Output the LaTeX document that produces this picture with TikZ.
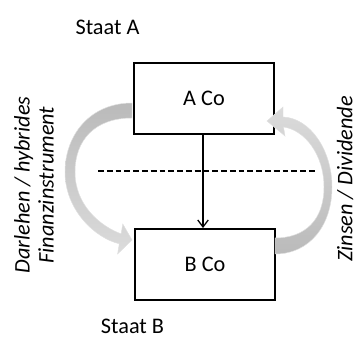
\documentclass[tikz,border=0pt]{standalone}
\usepackage{fontspec}
\setmainfont{Carlito}
\usepackage{tikz}
\usetikzlibrary{arrows.meta}

\tikzset{
    cobox/.style={draw, line width=1.6pt, minimum width=4.2cm, minimum height=2.13cm, inner sep=0pt},
    lbl/.style={font=\fontsize{19}{21}\selectfont},
    sidelbl/.style={font=\fontsize{19}{20.5}\selectfont\itshape, rotate=90, align=center},
    flow/.style={draw=black!12, line width=0.4pt}
}

\begin{document}
\begin{tikzpicture}[x=0.03cm, y=-0.03cm]
    \useasboundingbox (0,0) rectangle (363,338);

    % Countries
    \node[lbl] (staata) at (107.5,27) {Staat A};
    \node[lbl] (staatb) at (132.5,326) {Staat B};

    % Companies
    \node[cobox, lbl] (aco) at (204,98.5) {A Co};
    \node[cobox, lbl] (bco) at (205,264.5) {B Co};
    \draw[line width=1.1pt, -{Straight Barb[length=6pt,width=9pt]}] (aco.south -| 203,0) -- (bco.north -| 203,0);

    % Border
    \draw[line width=1.1pt, dash pattern=on 5pt off 2.5pt] (98,171) -- (317,171);

    % Loan
    \shade[flow, top color=black!27, bottom color=black!14]
        (132,103) .. controls (90,103) and (65,135) .. (65,172)
        .. controls (65,210) and (95,238) .. (119.3,243.8)
        -- (117.6,254) -- (132,240) -- (122.8,224)
        -- (121.1,233.9) .. controls (100,226) and (75,205) .. (75,172)
        .. controls (75,140) and (95,118) .. (132,118) -- cycle;
    \node[sidelbl] (loan) at (34,185) {Darlehen / hybrides\\Finanzinstrument};

    % Interest
    \shade[flow, bottom color=black!27, top color=black!14]
        (275,254) .. controls (310,254) and (332,225) .. (332,187)
        .. controls (332,150) and (310,118) .. (283,117)
        -- (283,107) -- (267,121) -- (285,136)
        -- (283.5,127) .. controls (305,130) and (324,155) .. (324,187)
        .. controls (324,220) and (305,238) .. (275,238) -- cycle;
    \node[sidelbl] (interest) at (345,179) {Zinsen / Dividende};
\end{tikzpicture}
\end{document}
